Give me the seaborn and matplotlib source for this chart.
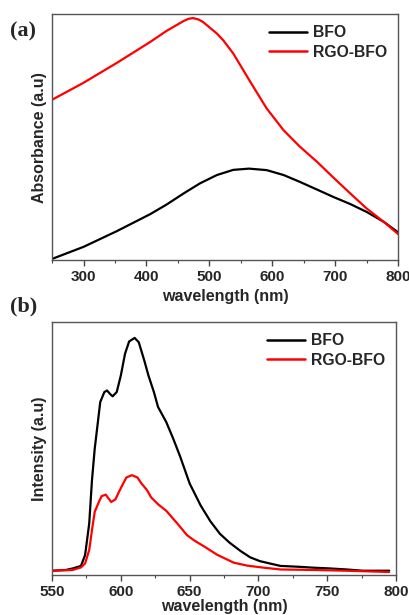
import numpy as np
import pandas as pd
import matplotlib
matplotlib.use("Agg")
import matplotlib.pyplot as plt
import seaborn as sns

# (a) UV-vis absorbance, arbitrary units
abs_bfo_wl = [250, 300, 353, 406, 432, 459, 485, 512, 538, 563, 591, 618, 644, 671, 697,
              724, 750, 777, 800]
abs_bfo = [0.005, 0.054, 0.118, 0.187, 0.226, 0.271, 0.312, 0.346, 0.367, 0.372, 0.366,
           0.346, 0.318, 0.287, 0.257, 0.228, 0.196, 0.156, 0.113]
abs_rgo_wl = [250, 300, 353, 406, 432, 459, 467, 474, 483, 490, 512, 522, 538, 565, 591,
              618, 644, 671, 697, 724, 750, 777, 800]
abs_rgo = [0.652, 0.721, 0.802, 0.887, 0.932, 0.972, 0.981, 0.984, 0.978, 0.968, 0.921,
           0.894, 0.840, 0.725, 0.617, 0.528, 0.461, 0.400, 0.336, 0.271, 0.210, 0.156, 0.106]

# (b) photoluminescence intensity, arbitrary units
pl_bfo_wl = [550, 560, 565, 571, 574, 577, 579, 581, 583, 585, 588, 590, 592, 594, 597,
             600, 603, 606, 610, 613, 617, 620, 624, 627, 633, 638, 643, 650, 658, 665,
             672, 679, 687, 694, 701, 708, 716, 728, 740, 752, 764, 776, 795]
pl_bfo = [0.017, 0.020, 0.026, 0.036, 0.079, 0.204, 0.375, 0.500, 0.592, 0.684, 0.724,
          0.730, 0.717, 0.707, 0.724, 0.790, 0.875, 0.924, 0.938, 0.921, 0.849, 0.790,
          0.724, 0.665, 0.605, 0.540, 0.470, 0.362, 0.275, 0.213, 0.163, 0.128, 0.095,
          0.070, 0.055, 0.046, 0.036, 0.033, 0.029, 0.026, 0.022, 0.017, 0.017]
pl_rgo_wl = [550, 565, 571, 574, 577, 579, 581, 584, 586, 589, 591, 593, 596, 598, 601,
             604, 608, 612, 615, 619, 622, 627, 633, 641, 648, 653, 662, 670, 677, 682,
             692, 704, 716, 740, 764, 795]
pl_rgo = [0.017, 0.020, 0.030, 0.046, 0.099, 0.178, 0.250, 0.289, 0.312, 0.318, 0.303,
          0.289, 0.299, 0.322, 0.355, 0.386, 0.395, 0.386, 0.362, 0.336, 0.307, 0.280,
          0.254, 0.204, 0.158, 0.138, 0.108, 0.080, 0.062, 0.049, 0.037, 0.029, 0.022,
          0.020, 0.017, 0.012]

series_names = ["BFO", "RGO-BFO"]
series_colors = ["black", "#ff0000"]

sns.set_theme(style="ticks")
plt.rcParams["font.family"] = ["Liberation Sans", "DejaVu Sans"]
plt.rcParams["font.weight"] = "bold"

fig = plt.figure(figsize=(4.1, 6.15), dpi=100)
ax1 = fig.add_axes([0.127, 0.577, 0.844, 0.400])
ax2 = fig.add_axes([0.127, 0.065, 0.839, 0.411])


def long_frame(parts):
    frames = []
    for name, wl, val in parts:
        frames.append(pd.DataFrame({"wavelength": wl, "value": val, "sample": name}))
    return pd.concat(frames, ignore_index=True)


df_a = long_frame([("BFO", abs_bfo_wl, abs_bfo), ("RGO-BFO", abs_rgo_wl, abs_rgo)])
df_b = long_frame([("BFO", pl_bfo_wl, pl_bfo), ("RGO-BFO", pl_rgo_wl, pl_rgo)])

palette = dict(zip(series_names, series_colors))

for ax, df, xlim, xticks, minor, ylabel in [
    (ax1, df_a, (250, 800), [300, 400, 500, 600, 700, 800], 50, "Absorbance (a.u)"),
    (ax2, df_b, (550, 800), [550, 600, 650, 700, 750, 800], 25, "Intensity (a.u)"),
]:
    sns.lineplot(data=df, x="wavelength", y="value", hue="sample", hue_order=series_names,
                 palette=palette, linewidth=1.6, ax=ax, legend=True, estimator=None, sort=True)
    ax.set_xlim(*xlim)
    ax.set_ylim(0, 1)
    ax.set_xticks(xticks)
    ax.set_xticks(np.arange(xlim[0], xlim[1] + 1, minor), minor=True)
    ax.set_yticks([])
    ax.tick_params(axis="x", which="major", direction="out", length=4, width=1,
                   labelsize=11, pad=3, color="#444444")
    ax.tick_params(axis="x", which="minor", direction="out", length=2, width=0.8, color="#444444")
    for lbl in ax.get_xticklabels():
        lbl.set_fontweight("bold")
    for sp in ax.spines.values():
        sp.set_visible(True)
        sp.set_linewidth(1.0)
        sp.set_color("#555555")
    ax.set_xlabel("wavelength (nm)", fontsize=11.5, fontweight="bold", labelpad=4)
    ax.set_ylabel(ylabel, fontsize=11.5, fontweight="bold", labelpad=4)
    leg = ax.legend(loc="upper right", frameon=False, fontsize=11.3, handlelength=2.4,
                    handletextpad=0.4, labelspacing=0.3, borderaxespad=0.3)
    for t in leg.get_texts():
        t.set_fontweight("bold")
    for h in leg.get_lines():
        h.set_linewidth(1.8)

ax2.xaxis.labelpad = 0

fig.text(0.025, 0.940, "(a)", fontsize=16, fontweight="bold", family="Liberation Serif")
fig.text(0.025, 0.493, "(b)", fontsize=16, fontweight="bold", family="Liberation Serif")

fig.savefig("out.png", dpi=100)
